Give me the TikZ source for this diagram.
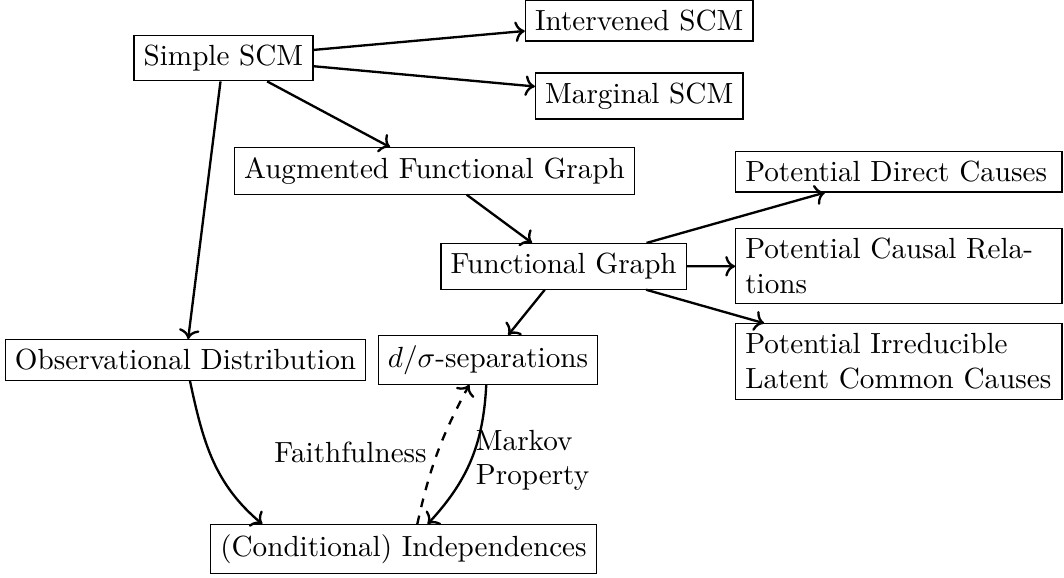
\documentclass[tikz,border=0pt]{standalone}
\usepackage{amsmath}
\usetikzlibrary{arrows.meta,positioning}

\begin{document}
\begin{tikzpicture}[
  x=1cm,y=1cm,
  box/.style={draw,inner sep=3.33pt},
  potbox/.style={box,text width=3.7cm,align=left,anchor=west},
  link/.style={->,thick}
]
\useasboundingbox (0,0) rectangle (12.824,-6.955);
% models
\node[box] (scm) at (2.693,-0.699) {Simple SCM};
\node[box] (interv) at (7.704,-0.250) {Intervened SCM};
\node[box] (marg) at (7.704,-1.157) {Marginal SCM};
\node[box] (aug) at (5.237,-2.061) {Augmented Functional Graph};
\node[box] (func) at (6.794,-3.210) {Functional Graph};
% graphical consequences
\node[potbox] (pdc) at (8.859,-2.069) {Potential Direct Causes};
\node[potbox] (pcr) at (8.859,-3.209) {Potential Causal Relations};
\node[potbox] (pilcc) at (8.859,-4.357) {Potential Irreducible Latent Common Causes};
% distributions and separations
\node[box] (obs) at (2.236,-4.338) {Observational Distribution};
\node[box] (dsep) at (5.882,-4.338) {$d/\sigma$-separations};
\node[box] (ci) at (4.863,-6.617) {(Conditional) Independences};

\foreach \t in {interv,marg,aug,obs}
  \draw[link] (scm) -- (\t);
\draw[link] (aug) -- (func);
\foreach \t in {pdc,pilcc,dsep}
  \draw[link] (func) -- (\t);
\draw[link] (func) -- (pcr);

\draw[link] (obs) to[out=-78,in=140] (ci.170);
\draw[link] (dsep) to[bend left=20] node[right,align=left,xshift=-2pt] {Markov\\Property} (ci);
\draw[link,dashed] (ci.61) to[bend left=8] node[left] {Faithfulness} (dsep.-127);
\end{tikzpicture}
\end{document}
